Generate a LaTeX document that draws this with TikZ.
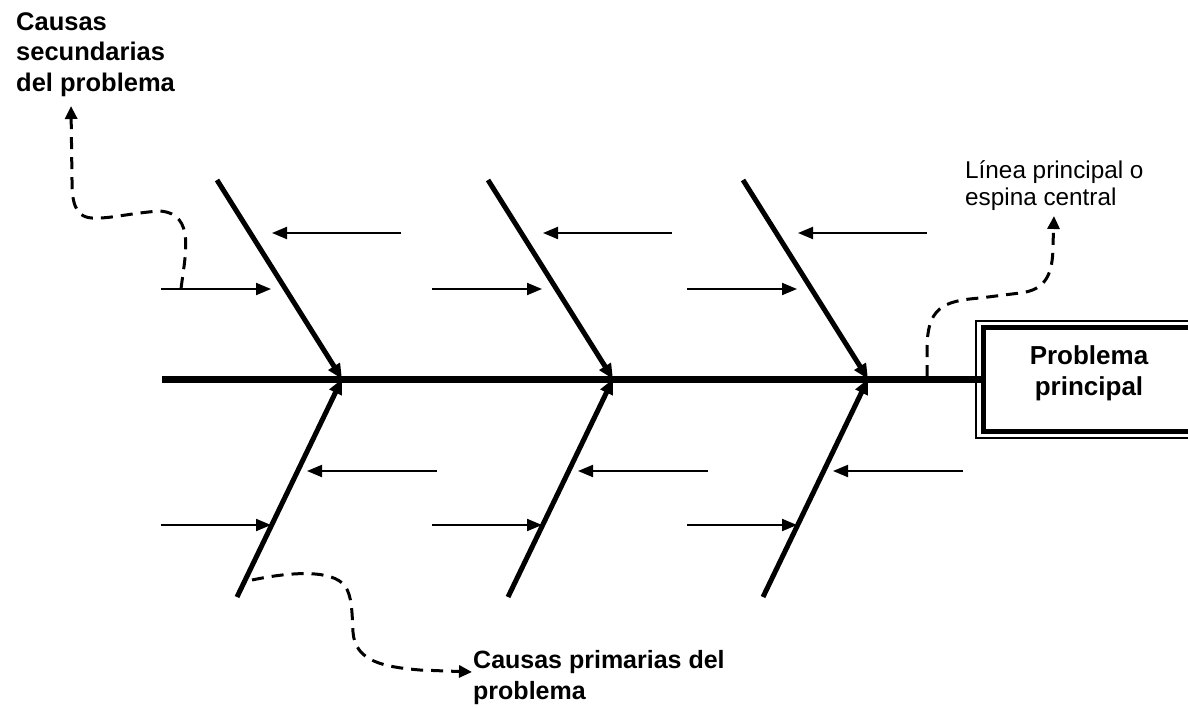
\documentclass[tikz,border=0pt]{standalone}
\usepackage{fontspec}
\setmainfont{Liberation Sans}
\usetikzlibrary{arrows.meta}
\begin{document}
\begin{tikzpicture}[x=1pt,y=-1pt,
  spine/.style={line width=7pt},
  bone/.style={line width=5pt,-{Triangle[length=15pt,width=13pt]}},
  twig/.style={line width=2pt,-{Triangle[length=15pt,width=12pt]}},
  callout/.style={line width=3pt,dash pattern=on 12pt off 8pt,-{Triangle[length=13pt,width=12pt]}},
  lbl/.style={inner sep=0pt,anchor=base west,align=left},
  boldlbl/.style={lbl,font=\fontsize{25.5}{30}\selectfont\bfseries},
]
\useasboundingbox (0,0) rectangle (1188,709);
% box (cut by the right edge)
\draw[line width=1.5pt] (1188,321) -- (976,321) -- (976,438) -- (1188,438);
\draw[line width=5pt] (1188,327.5) -- (983,327.5) -- (983,431.5) -- (1188,431.5);
\node[inner sep=0pt,align=center,font=\fontsize{26}{31}\selectfont\bfseries] (prob) at (1089,373) {Problema\\principal};
% spine
\coordinate (tail) at (162,379);
\coordinate (boxL) at (983,379);
\draw[spine] (tail) -- (boxL);
% bones and twigs
\foreach \i/\jx in {1/342,2/613,3/868} {
  \coordinate (J\i) at (\jx,379);
  \coordinate (U\i) at (\jx-125,180);
  \coordinate (L\i) at (\jx-105,597);
  \draw[bone] (U\i) -- (J\i);
  \draw[bone] (L\i) -- (J\i);
  \coordinate (ula\i) at (\jx+59,233);  \coordinate (ulb\i) at (\jx-70,233);
  \coordinate (ura\i) at (\jx-181,289); \coordinate (urb\i) at (\jx-71,289);
  \coordinate (lla\i) at (\jx+95,471);  \coordinate (llb\i) at (\jx-35,471);
  \coordinate (lra\i) at (\jx-181,525); \coordinate (lrb\i) at (\jx-71,525);
  \draw[twig] (ula\i) -- (ulb\i);
  \draw[twig] (ura\i) -- (urb\i);
  \draw[twig] (lla\i) -- (llb\i);
  \draw[twig] (lra\i) -- (lrb\i);
}
% labels
\node[boldlbl] (sec) at (16,91) {Causas\\secundarias\\del problema};
\node[boldlbl,font=\fontsize{25}{31}\selectfont\bfseries] (prim) at (473,699) {Causas primarias del\\problema};
\node[lbl,font=\fontsize{24.3}{26.5}\selectfont] (line) at (965,205) {Línea principal o\\espina central};
% callouts
\coordinate (s0) at (181,289);
\coordinate (s1) at (71,106);
\draw[callout] (s0) .. controls (185,255) and (196,214) .. (160,211)
  .. controls (130,213) and (110,219) .. (92,218)
  .. controls (74,217) and (72,200) .. (72,180) -- (s1);
\coordinate (m0) at (927,377);
\coordinate (m1) at (1054,216);
\draw[callout] (m0) -- (927,350) .. controls (927,308) and (942,301) .. (980,298)
  -- (1020,293) .. controls (1046,290) and (1053,274) .. (1053,245) -- (m1);
\coordinate (p0) at (252,580);
\coordinate (p1) at (472,672);
\draw[callout] (p0) .. controls (290,572) and (332,569) .. (345,586)
  .. controls (352,596) and (352,612) .. (353,632)
  .. controls (355,662) and (385,667) .. (420,670) -- (p1);
\end{tikzpicture}
\end{document}
